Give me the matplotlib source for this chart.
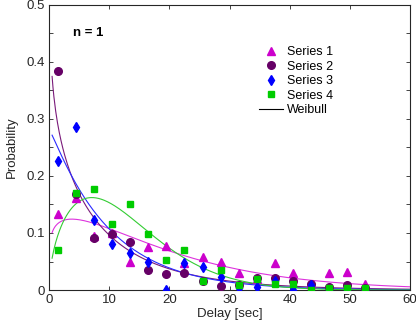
import matplotlib
matplotlib.use("Agg")
import matplotlib.pyplot as plt
import numpy as np

plt.rcParams["font.family"] = ["Liberation Sans", "DejaVu Sans"]
plt.rcParams["font.size"] = 9

# bin centres [sec]
delay = [1.5, 4.5, 7.5, 10.5, 13.5, 16.5, 19.5, 22.5, 25.5,
         28.5, 31.5, 34.5, 37.5, 40.5, 43.5, 46.5, 49.5, 52.5]

series1 = [0.133, 0.162, 0.095, 0.100, 0.049, 0.076, 0.077, 0.048, 0.058,
           0.049, 0.030, 0.020, 0.048, 0.029, 0.010, 0.029, 0.031, 0.010]
series2 = [0.383, 0.168, 0.091, 0.098, 0.084, 0.035, 0.028, 0.029, 0.016,
           0.007, 0.009, 0.021, 0.021, 0.016, 0.010, 0.005, 0.008, 0.004]
series3 = [0.226, 0.285, 0.122, 0.081, 0.065, 0.049, 0.000, 0.048, 0.041,
           0.022, 0.003, 0.006, 0.016, 0.000, 0.008, 0.000, 0.000, 0.000]
series4 = [0.071, 0.170, 0.177, 0.116, 0.151, 0.098, 0.053, 0.071, 0.016,
           0.035, 0.009, 0.020, 0.010, 0.010, 0.000, 0.003, 0.003, 0.003]

# Weibull fit parameters per series: shape k, scale lambda, amplitude A
weib_k = [1.17, 0.87, 1.01, 1.53]
weib_lam = [19.6, 9.5, 9.9, 14.2]
weib_amp = [3.185, 3.010, 2.877, 3.069]

labels = ["Series 1", "Series 2", "Series 3", "Series 4"]
markers = ["^", "o", "d", "s"]
msizes = [6, 5.5, 5.5, 4.5]
mcolors = ["#CC00CC", "#660066", "#0000FF", "#00CC00"]
lcolors = ["#DD33DD", "#7A1A7A", "#2A2AFF", "#33CC33"]


def weibull(x, k, lam, amp):
    return amp * (k / lam) * (x / lam) ** (k - 1) * np.exp(-(x / lam) ** k)


fig = plt.figure(figsize=(4.16, 3.27), dpi=100)
ax = fig.add_axes([0.118, 0.113, 0.868, 0.873])

data = [series1, series2, series3, series4]
xx = np.linspace(0.5, 60, 400)
for i in range(4):
    ax.plot(delay, data[i], linestyle="none", marker=markers[i], ms=msizes[i],
            color=mcolors[i], mec=mcolors[i], label=labels[i], zorder=3)
for i in range(4):
    ax.plot(xx, weibull(xx, weib_k[i], weib_lam[i], weib_amp[i]),
            color=lcolors[i], lw=0.8, zorder=2)
ax.plot([], [], color="black", lw=0.8, label="Weibull")

ax.set_xlim(0, 60)
ax.set_ylim(0, 0.5)
ax.set_xticks([0, 10, 20, 30, 40, 50, 60])
yt = np.arange(0, 0.501, 0.05)
ax.set_yticks(yt)
ax.set_yticklabels(["0" if i == 0 else (f"{v:.1f}" if i % 2 == 0 else "")
                    for i, v in enumerate(yt)])
ax.tick_params(direction="in", length=3, width=0.6, top=True, right=True,
               colors="#262626", labelcolor="#262626", labelsize=9.5, pad=3)
for s in ax.spines.values():
    s.set_color("#262626")
    s.set_linewidth(0.8)

ax.set_xlabel("Delay [sec]", fontsize=9.5, color="#262626", labelpad=1)
ax.set_ylabel("Probability", fontsize=9.5, color="#262626", labelpad=6)

ax.text(3.9, 0.45, "n = 1", fontweight="bold", fontsize=9.5, va="center")

ax.legend(loc="upper left", bbox_to_anchor=(0.575, 0.863), frameon=False,
          fontsize=9, handlelength=1.9, handletextpad=0.3, labelspacing=0.2,
          borderpad=0.2, borderaxespad=0)

fig.savefig("out.png", dpi=100)
